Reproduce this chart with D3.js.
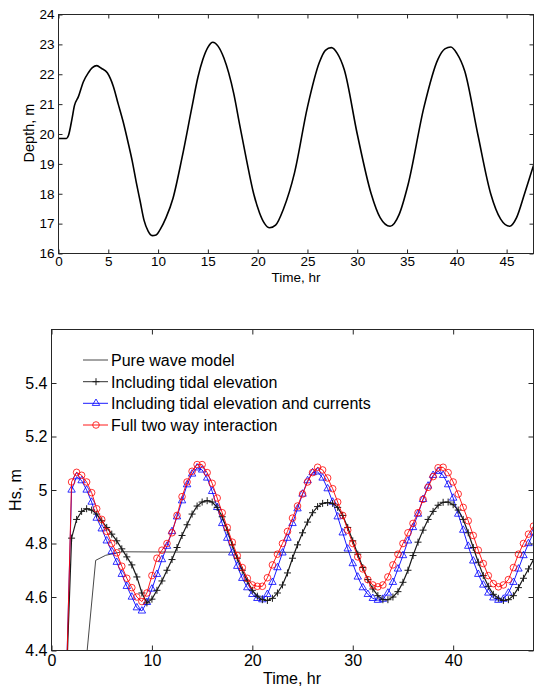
<!DOCTYPE html>
<html>
<head>
<meta charset="utf-8">
<script src="https://cdn.jsdelivr.net/npm/d3@7"></script>
<style>
  body { margin: 0; background: #fff; }
  svg text { font-family: Arial, "Liberation Sans", Helvetica, sans-serif; fill: #000; }
</style>
</head>
<body>
<div id="graphic"></div>
<script>
// ---- top panel: water depth ----
const depthHours = [0, 0.8, 1.0, 1.35, 1.6, 2.0, 2.5, 3.0, 3.4, 3.85, 4.3, 4.9, 5.5, 6.0, 6.5, 7.0, 7.4, 7.8, 8.2, 8.6,
                    9.0, 9.4, 9.8, 10.2, 10.8, 11.5, 12.4, 13.4, 14.0, 14.5, 15.0, 15.5, 16.0, 16.6, 17.6, 18.2, 18.9, 19.6,
                    20.2, 20.7, 21.2, 21.8, 22.6, 23.7, 25.0, 26.2, 26.8, 27.4, 28.0, 28.7, 30.0, 31.4, 32.3, 33.3, 34.2,
                    35.1, 36.7, 38.1, 38.8, 39.4, 40.0, 40.8, 42.1, 43.4, 44.4, 45.3, 46.0, 46.8, 47.7];
const depthValues = [19.85, 19.85, 19.95, 20.5, 20.95, 21.25, 21.75, 22.05, 22.22, 22.29, 22.2, 22.05, 21.6, 21.0, 20.4, 19.7, 19.1, 18.4, 17.75, 17.1,
                     16.75, 16.6, 16.62, 16.8, 17.2, 17.85, 19.2, 20.9, 21.9, 22.5, 22.9, 23.07, 22.95, 22.55, 21.35, 20.3, 19.1, 18.0,
                     17.35, 17.0, 16.86, 16.95, 17.5, 18.7, 20.9, 22.4, 22.8, 22.89, 22.7, 22.15, 20.0, 18.0, 17.2, 16.91, 17.3,
                     18.3, 20.9, 22.5, 22.85, 22.91, 22.7, 22.1, 20.0, 18.0, 17.15, 16.91, 17.2, 18.0, 18.95];
const depthXTicks = [0, 5, 10, 15, 20, 25, 30, 35, 40, 45];
const depthYTicks = [16, 17, 18, 19, 20, 21, 22, 23, 24];

// ---- bottom panel: significant wave height, sampled every half hour from 1.5 hr ----
const hsStart = 1.5;
const hsStep = 0.5;
const hsTidal = [
  4.30, 4.82, 4.89, 4.92, 4.93, 4.925, 4.91, 4.885, 4.86, 4.835,
  4.81, 4.78, 4.75, 4.72, 4.675, 4.615, 4.578, 4.592, 4.625, 4.66,
  4.70, 4.74, 4.785, 4.83, 4.87, 4.91, 4.94, 4.955, 4.96, 4.955,
  4.935, 4.90, 4.85, 4.795, 4.745, 4.70, 4.66, 4.625, 4.603, 4.59,
  4.587, 4.595, 4.615, 4.645, 4.69, 4.745, 4.795, 4.84, 4.88, 4.915,
  4.938, 4.95, 4.953, 4.95, 4.935, 4.905, 4.86, 4.81, 4.76, 4.71,
  4.665, 4.63, 4.605, 4.59, 4.59, 4.60, 4.62, 4.655, 4.70, 4.755,
  4.805, 4.85, 4.89, 4.92, 4.943, 4.954, 4.955, 4.945, 4.925, 4.89,
  4.84, 4.785, 4.73, 4.68, 4.64, 4.61, 4.595, 4.587, 4.59, 4.605,
  4.635, 4.67, 4.705, 4.74];
const hsTidalCurrents = [
  4.32, 5.00, 5.05, 5.035, 5.00, 4.955, 4.895, 4.855, 4.81, 4.77,
  4.73, 4.685, 4.64, 4.60, 4.56, 4.548, 4.58, 4.63, 4.685, 4.74,
  4.79, 4.845, 4.90, 4.96, 5.02, 5.06, 5.083, 5.075, 5.045, 4.995,
  4.935, 4.875, 4.82, 4.765, 4.715, 4.67, 4.635, 4.61, 4.595, 4.59,
  4.61, 4.655, 4.71, 4.765, 4.82, 4.875, 4.93, 4.985, 5.035, 5.065,
  5.068, 5.045, 5.005, 4.955, 4.90, 4.84, 4.78, 4.725, 4.675, 4.635,
  4.61, 4.595, 4.588, 4.592, 4.615, 4.655, 4.705, 4.755, 4.81, 4.86,
  4.91, 4.965, 5.015, 5.055, 5.07, 5.055, 5.02, 4.97, 4.91, 4.85,
  4.79, 4.735, 4.685, 4.645, 4.615, 4.597, 4.588, 4.592, 4.615, 4.655,
  4.705, 4.755, 4.80, 4.84];
const hsTwoWay = [
  4.30, 5.03, 5.066, 5.055, 5.03, 4.99, 4.93, 4.89, 4.845, 4.80,
  4.765, 4.715, 4.67, 4.635, 4.60, 4.583, 4.615, 4.68, 4.745, 4.775,
  4.80, 4.84, 4.905, 4.975, 5.03, 5.07, 5.095, 5.095, 5.065, 5.025,
  4.97, 4.915, 4.86, 4.805, 4.755, 4.71, 4.67, 4.645, 4.64, 4.64,
  4.672, 4.72, 4.76, 4.80, 4.845, 4.895, 4.94, 4.985, 5.03, 5.065,
  5.085, 5.075, 5.045, 5.005, 4.955, 4.905, 4.85, 4.80, 4.75, 4.705,
  4.665, 4.645, 4.638, 4.645, 4.675, 4.72, 4.76, 4.80, 4.84, 4.875,
  4.915, 4.965, 5.01, 5.05, 5.083, 5.085, 5.065, 5.03, 4.985, 4.935,
  4.885, 4.83, 4.775, 4.725, 4.68, 4.65, 4.638, 4.645, 4.665, 4.71,
  4.76, 4.80, 4.835, 4.865];
const pureHours = [3.3, 4.4, 5.4, 7.0, 12, 24, 36, 48];
const pureHs = [4.30, 4.737, 4.756, 4.769, 4.768, 4.767, 4.766, 4.766];
const hsXTicks = [0, 10, 20, 30, 40];
const hsYTicks = [4.4, 4.6, 4.8, 5.0, 5.2, 5.4];
const legendLabels = ["Pure wave model", "Including tidal elevation",
                      "Including tidal elevation and currents", "Full two way interaction"];

const axisColor = "#262626";

const svg = d3.select("#graphic")
              .append("svg")
              .attr("width", 534)
              .attr("height", 687)
              .style("display", "block");

// draws the matlab style box with inward ticks on all four sides
function drawBox(x, y, xTicks, yTicks, fontSize, tickLen, yFormat) {
    const [x0, x1] = x.range();
    const [y0, y1] = y.range();
    const g = svg.append("g");

    g.append("g")
     .attr("transform", "translate(0," + y0 + ")")
     .call(d3.axisBottom(x).tickValues(xTicks).tickSizeInner(-tickLen).tickSizeOuter(0).tickPadding(fontSize * 0.25));
    g.append("g")
     .attr("transform", "translate(0," + y1 + ")")
     .call(d3.axisTop(x).tickValues(xTicks).tickSizeInner(-tickLen).tickSizeOuter(0).tickFormat(""));
    g.append("g")
     .attr("transform", "translate(" + x0 + ",0)")
     .call(d3.axisLeft(y).tickValues(yTicks).tickSizeInner(-tickLen).tickSizeOuter(0).tickPadding(4).tickFormat(yFormat));
    g.append("g")
     .attr("transform", "translate(" + x1 + ",0)")
     .call(d3.axisRight(y).tickValues(yTicks).tickSizeInner(-tickLen).tickSizeOuter(0).tickFormat(""));

    g.selectAll(".domain").remove();
    g.selectAll(".tick line").attr("stroke", axisColor);
    g.selectAll(".tick text")
     .attr("font-size", fontSize)
     .attr("font-family", null)
     .attr("fill", "#000");

    g.append("rect")
     .attr("x", x0)
     .attr("y", y1)
     .attr("width", x1 - x0)
     .attr("height", y0 - y1)
     .attr("fill", "none")
     .attr("stroke", axisColor)
     .attr("stroke-width", 1);
    return g;
}

// ---------------- top panel ----------------
const xDepth = d3.scaleLinear().domain([0, 47.7]).range([58.5, 533.5]);
const yDepth = d3.scaleLinear().domain([16, 24]).range([253.5, 14.5]);

const depthData = depthHours.map((t, i) => ({t: t, v: depthValues[i]}));
svg.append("path")
   .datum(depthData)
   .attr("fill", "none")
   .attr("stroke", "#000")
   .attr("stroke-width", 1.6)
   .attr("stroke-linejoin", "round")
   .attr("d", d3.line()
                .curve(d3.curveMonotoneX)
                .x(d => xDepth(d.t))
                .y(d => yDepth(d.v)));

drawBox(xDepth, yDepth, depthXTicks, depthYTicks, 13.5, 4, d3.format("d"));

svg.append("text")
   .attr("x", 296)
   .attr("y", 281.5)
   .attr("text-anchor", "middle")
   .attr("font-size", 13.5)
   .text("Time, hr");
svg.append("text")
   .attr("transform", "translate(34,133) rotate(-90)")
   .attr("text-anchor", "middle")
   .attr("font-size", 14.5)
   .text("Depth, m");

// ---------------- bottom panel ----------------
const xHs = d3.scaleLinear().domain([0, 48]).range([51.5, 533.5]);
const yHs = d3.scaleLinear().domain([4.4, 5.6]).range([650.5, 329.5]);

svg.append("clipPath")
   .attr("id", "hs-clip")
   .append("rect")
   .attr("x", xHs(0))
   .attr("y", yHs(5.6))
   .attr("width", xHs(48) - xHs(0))
   .attr("height", yHs(4.4) - yHs(5.6));

const plot = svg.append("g").attr("clip-path", "url(#hs-clip)");

const toPoints = vals => vals.map((v, i) => ({t: hsStart + i * hsStep, v: v}));
const hsLine = d3.line().x(d => xHs(d.t)).y(d => yHs(d.v));

const plusPath = "M-3.5,0H3.5M0,-3.5V3.5";
const trianglePath = d3.symbol(d3.symbolTriangle, 24)();

const series = [
    {name: legendLabels[1], data: toPoints(hsTidal), color: "#1a1a1a", marker: "plus"},
    {name: legendLabels[2], data: toPoints(hsTidalCurrents), color: "#0000ff", marker: "triangle"},
    {name: legendLabels[3], data: toPoints(hsTwoWay), color: "#ff0000", marker: "circle"}
];

// pure wave model, plain line
const pureData = pureHours.map((t, i) => ({t: t, v: pureHs[i]}));
plot.append("path")
    .datum(pureData)
    .attr("fill", "none")
    .attr("stroke", "#333")
    .attr("stroke-width", 0.9)
    .attr("d", hsLine);

function drawMarker(sel, type, color) {
    if (type === "circle") {
        sel.append("circle")
           .attr("r", 3.3)
           .attr("fill", "none")
           .attr("stroke", color)
           .attr("stroke-width", 0.8);
    } else if (type === "triangle") {
        sel.append("path")
           .attr("d", trianglePath)
           .attr("fill", "none")
           .attr("stroke", color)
           .attr("stroke-width", 0.8);
    } else {
        sel.append("path")
           .attr("d", plusPath)
           .attr("fill", "none")
           .attr("stroke", color)
           .attr("stroke-width", 1);
    }
}

// draw order: blue, black, red on top
[series[1], series[0], series[2]].forEach(s => {
    plot.append("path")
        .datum(s.data)
        .attr("fill", "none")
        .attr("stroke", s.color)
        .attr("stroke-width", s.marker === "plus" ? 1.2 : 0.9)
        .attr("d", hsLine);
    const marks = plot.append("g")
                      .selectAll("g")
                      .data(s.data)
                      .join("g")
                      .attr("transform", d => "translate(" + xHs(d.t) + "," + yHs(d.v) + ")");
    drawMarker(marks, s.marker, s.color);
});

drawBox(xHs, yHs, hsXTicks, hsYTicks, 16, 5, d => d === 5 ? "5" : d3.format(".1f")(d));

svg.append("text")
   .attr("x", 292)
   .attr("y", 684)
   .attr("text-anchor", "middle")
   .attr("font-size", 16)
   .text("Time, hr");
svg.append("text")
   .attr("transform", "translate(21,490) rotate(-90)")
   .attr("text-anchor", "middle")
   .attr("font-size", 16)
   .text("Hs, m");

// legend, no box
const legendRows = [360, 381.7, 403.3, 425];
const legend = svg.append("g");
legendLabels.forEach((label, i) => {
    const row = legend.append("g").attr("transform", "translate(0," + legendRows[i] + ")");
    const color = i === 0 ? "#333" : series[i - 1].color;
    row.append("line")
       .attr("x1", 83)
       .attr("x2", 108)
       .attr("stroke", color)
       .attr("stroke-width", 0.9);
    if (i > 0) {
        drawMarker(row.append("g").attr("transform", "translate(96,0)"), series[i - 1].marker, color);
    }
    row.append("text")
       .attr("x", 111)
       .attr("y", 5.8)
       .attr("font-size", 16)
       .text(label);
});
</script>
</body>
</html>
